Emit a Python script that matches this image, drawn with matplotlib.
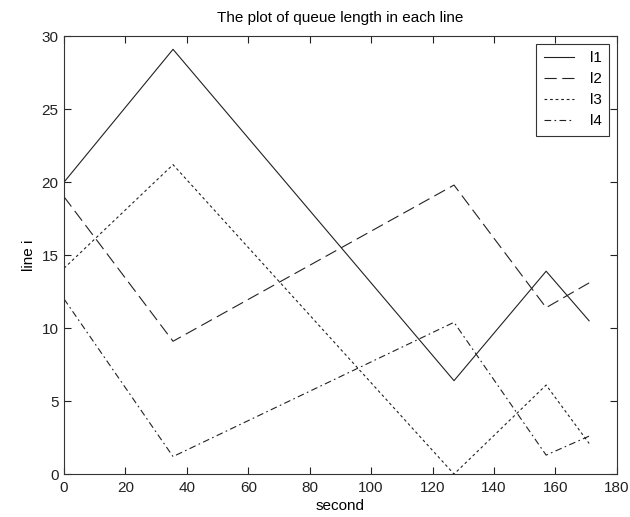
import matplotlib.pyplot as plt

# time points (seconds) where the queue lengths change direction
t = [0, 35.5, 127, 157, 171]

l1 = [20.0, 29.1, 6.4, 13.9, 10.5]
l2 = [19.0, 9.1, 19.8, 11.4, 13.1]
l3 = [14.1, 21.2, 0.0, 6.1, 2.1]
l4 = [12.0, 1.2, 10.4, 1.3, 2.6]

labels = ["l1", "l2", "l3", "l4"]

plt.rcParams["font.family"] = ["Liberation Sans Narrow", "Liberation Sans", "DejaVu Sans"]

fig = plt.figure(figsize=(6.3, 5.17), dpi=100)
ax = fig.add_axes([0.1016, 0.083, 0.8774, 0.847])

ink = "#222222"
ax.plot(t, l1, color=ink, lw=0.8, linestyle="-", label=labels[0])
ax.plot(t, l2, color=ink, lw=0.8, linestyle=(0, (11, 5)), label=labels[1])
ax.plot(t, l3, color=ink, lw=0.8, linestyle=(0, (2.5, 2.5)), label=labels[2])
ax.plot(t, l4, color=ink, lw=0.8, linestyle=(0, (6, 3, 1.5, 3)), label=labels[3])

ax.set_xlim(0, 180)
ax.set_ylim(0, 30)
ax.set_xticks(range(0, 181, 20))
ax.set_yticks(range(0, 31, 5))
ax.tick_params(direction="in", length=5, width=0.8, top=True, right=True,
               labelsize=11, colors="#222222")
ax.tick_params(axis="x", pad=5)
ax.tick_params(axis="y", pad=4)
for spine in ax.spines.values():
    spine.set_linewidth(0.8)
    spine.set_color("#333333")

ax.set_title("The plot of queue length in each line", fontsize=11, pad=10)
ax.set_xlabel("second", fontsize=11, labelpad=3)
ax.set_ylabel("line i", fontsize=11, labelpad=4)

leg = ax.legend(loc="upper right", fontsize=11, handlelength=2.0, fancybox=False,
                edgecolor="#333333", framealpha=1, borderaxespad=0.5,
                labelspacing=0.45, handletextpad=1.0, borderpad=0.5)
leg.get_frame().set_linewidth(0.8)

fig.savefig("out.png", dpi=100)
